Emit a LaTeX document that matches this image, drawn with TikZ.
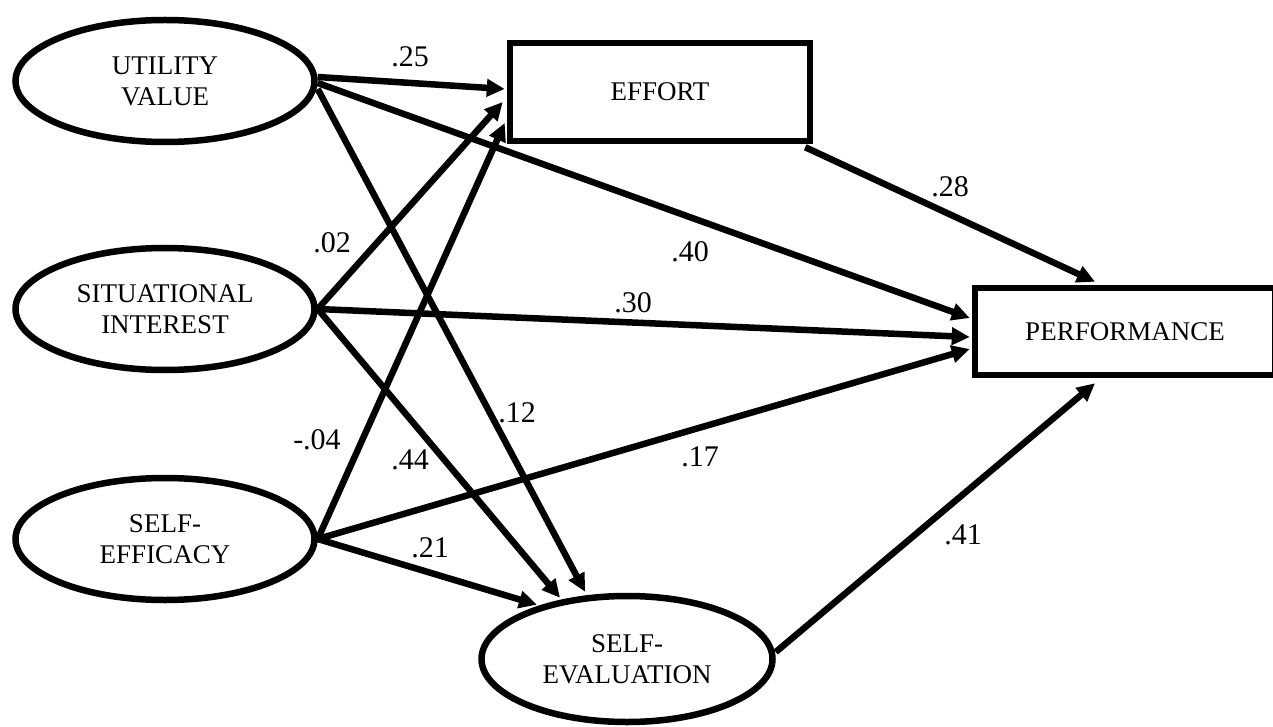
\documentclass[tikz,border=0pt]{standalone}
\usepackage{fontspec}
\setmainfont{Liberation Serif}
\usetikzlibrary{shapes.geometric,arrows.meta,calc}
\begin{document}
\begin{tikzpicture}[x=1pt,y=-1pt,
  latent/.style={draw,ellipse,line width=6.5pt,inner sep=0pt,align=center,
    font=\fontsize{27}{31}\selectfont},
  observed/.style={draw,rectangle,line width=6.5pt,inner sep=0pt,align=center,
    minimum width=300pt,font=\fontsize{27}{31}\selectfont},
  path/.style={line width=6.5pt,-{Triangle[length=18pt,width=17pt]}},
  coef/.style={font=\fontsize{30}{33}\selectfont,inner sep=0pt}]
\useasboundingbox (0,0) rectangle (1273,727);
% nodes
\node[latent,minimum width=299pt,minimum height=122pt] (uv) at (165,81) {UTILITY\\VALUE};
\node[latent,minimum width=299pt,minimum height=122pt] (si) at (165,309) {SITUATIONAL\\INTEREST};
\node[latent,minimum width=291pt,minimum height=126pt] (sev) at (627,659) {SELF-\\EVALUATION};
\node[latent,minimum width=299pt,minimum height=122pt] (se) at (165,539) {SELF-\\EFFICACY};
\node[observed,minimum height=98pt] (effort) at (660,92) {EFFORT};
\node[observed,minimum height=87pt] (perf) at (1125,331.5) {PERFORMANCE};
% arrow end points
\coordinate (e1) at ($(effort.west)+(-2,-3)$);
\coordinate (e2) at ($(effort.west)+(-4,10)$);
\coordinate (e3) at ($(effort.west)+(-2,31)$);
\coordinate (p1) at ($(perf.west)+(-2,-13.5)$);
\coordinate (p2) at ($(perf.west)+(-2,5.5)$);
\coordinate (p3) at ($(perf.west)+(-2,17.5)$);
\coordinate (ptop) at ($(perf.north)+(-30,-3)$);
\coordinate (pbot) at ($(perf.south)+(-30,5)$);
\coordinate (v1) at ($(sev.north)+(-42,-1)$);
\coordinate (v2) at ($(sev.north)+(-67,5)$);
\coordinate (v3) at ($(sev.north)+(-90,12)$);
\coordinate (es) at ($(effort.south east)+(-8,3)$);
\coordinate (vs) at ($(sev.east)+(0,-7)$);
\coordinate (u1) at ($(uv.east)+(0,-4)$);
\coordinate (u2) at ($(uv.east)+(0,2)$);
\coordinate (u3) at ($(uv.east)+(0,8)$);
% connectors
\draw[path] (u1) -- (e1);
\draw[path] (u2) -- (p1);
\draw[path] (u3) -- (v1);
\draw[path] (si.east) -- (e2);
\draw[path] (si.east) -- (p2);
\draw[path] (si.east) -- (v2);
\draw[path] (se.east) -- (e3);
\draw[path] (se.east) -- (p3);
\draw[path] (se.east) -- (v3);
\draw[path] (es) -- (ptop);
\draw[path] (vs) -- (pbot);
% coefficients
\node[coef] (c25) at (410,57) {.25};
\node[coef] (c02) at (332,243) {.02};
\node[coef] (c40) at (690,252) {.40};
\node[coef] (c30) at (633,303) {.30};
\node[coef] (c28) at (950,187) {.28};
\node[coef] (c12) at (517,413) {.12};
\node[coef] (c04) at (317,440) {-.04};
\node[coef] (c44) at (410,460) {.44};
\node[coef] (c17) at (700,457) {.17};
\node[coef] (c21) at (430,548) {.21};
\node[coef] (c41) at (963,535) {.41};
\end{tikzpicture}
\end{document}
